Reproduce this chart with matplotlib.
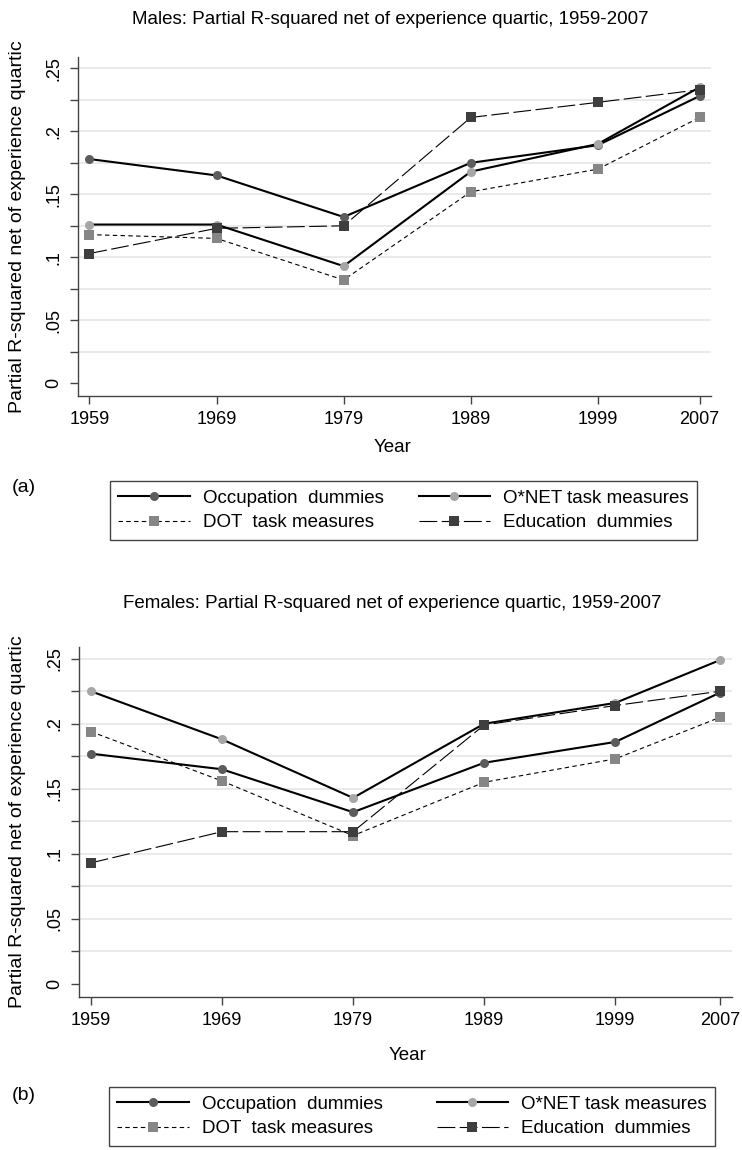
import matplotlib
matplotlib.use("Agg")
import matplotlib.pyplot as plt
from matplotlib.ticker import MultipleLocator

plt.rcParams["font.family"] = ["Liberation Sans", "DejaVu Sans"]

# values
years = [1959, 1969, 1979, 1989, 1999, 2007]
y_ticks = [0, 0.05, 0.10, 0.15, 0.20, 0.25]
y_tick_labels = ["0", ".05", ".1", ".15", ".2", ".25"]

series_names = ["Occupation  dummies", "O*NET task measures",
                "DOT  task measures", "Education  dummies"]

males_occupation = [0.178, 0.165, 0.132, 0.175, 0.189, 0.228]
males_onet = [0.126, 0.126, 0.093, 0.168, 0.190, 0.235]
males_dot = [0.118, 0.115, 0.082, 0.152, 0.170, 0.211]
males_education = [0.103, 0.123, 0.125, 0.211, 0.223, 0.233]

females_occupation = [0.177, 0.165, 0.132, 0.170, 0.186, 0.224]
females_onet = [0.225, 0.188, 0.143, 0.200, 0.216, 0.249]
females_dot = [0.194, 0.156, 0.114, 0.155, 0.173, 0.205]
females_education = [0.093, 0.117, 0.117, 0.199, 0.214, 0.225]

titles = ["Males: Partial R-squared net of experience quartic, 1959-2007",
          "Females: Partial R-squared net of experience quartic, 1959-2007"]
y_title = "Partial R-squared net of experience quartic"
x_title = "Year"
panel_tags = ["(a)", "(b)"]

# line style per series: (marker, marker colour, linestyle, linewidth)
STYLES = [
    ("o", "#5c5c5c", "-", 1.5),
    ("o", "#a6a6a6", "-", 1.5),
    ("s", "#868686", (0, (4, 3)), 0.8),
    ("s", "#3e3e3e", (0, (16, 4)), 0.8),
]

W, H = 742, 1150


def draw_panel(fig, rect, series, title, title_xy, xlabel_xy, ylabel_x, tag_xy, legend_box):
    ax = fig.add_axes([rect[0] / W, 1 - rect[3] / H, (rect[2] - rect[0]) / W, (rect[3] - rect[1]) / H])
    handles = []
    for values, name, (mk, mc, ls, lw) in zip(series, series_names, STYLES):
        (h,) = ax.plot(years, values, color="black", linestyle=ls, linewidth=lw,
                       marker=mk, markersize=6.5, markerfacecolor=mc,
                       markeredgewidth=0, label=name, zorder=3)
        handles.append(h)

    ax.set_xlim(1958.1, 2007.9)
    ax.set_ylim(-0.0101, 0.259)
    ax.set_xticks(years, [str(y) for y in years], fontsize=13)
    ax.set_yticks(y_ticks, y_tick_labels, fontsize=13, rotation=90, va="center")
    ax.yaxis.set_minor_locator(MultipleLocator(0.025))
    ax.tick_params(which="both", direction="out", length=6, width=1, color="#444444", pad=5)
    ax.grid(axis="y", which="both", color="#e6e6e6", linewidth=1.2, zorder=0)
    ax.set_axisbelow(True)
    # no gridline along zero
    ax.get_ygridlines()[0].set_visible(False)
    for side in ("top", "right"):
        ax.spines[side].set_visible(False)
    for side in ("left", "bottom"):
        ax.spines[side].set_color("#444444")
        ax.spines[side].set_linewidth(1.0)

    fig.text(title_xy[0] / W, 1 - title_xy[1] / H, title, ha="center", va="center", fontsize=13.5)
    fig.text(xlabel_xy[0] / W, 1 - xlabel_xy[1] / H, x_title, ha="center", va="center", fontsize=13.5)
    fig.text(ylabel_x / W, 1 - (rect[1] + rect[3]) / 2 / H, y_title, ha="center", va="center",
             rotation=90, fontsize=14)
    fig.text(tag_xy[0] / W, 1 - tag_xy[1] / H, tag_xy[2], ha="left", va="center", fontsize=14)

    # legend rows: occupation / O*NET on top, DOT / education below
    order = [0, 2, 1, 3]
    x0, y0, x1, y1 = legend_box
    leg = fig.legend([handles[i] for i in order], [series_names[i] for i in order],
                     loc="upper left", bbox_to_anchor=(x0 / W, 1 - y1 / H, (x1 - x0) / W, (y1 - y0) / H),
                     mode="expand", ncol=2, fontsize=13.5, numpoints=1, handlelength=3.8,
                     handletextpad=0.7, columnspacing=2.3, borderaxespad=0, borderpad=0.45,
                     labelspacing=0.4, fancybox=False, framealpha=1)
    leg.get_frame().set_edgecolor("#444444")
    leg.get_frame().set_linewidth(1.0)
    return ax


def main():
    fig = plt.figure(figsize=(W / 100, H / 100), dpi=100)
    fig.patch.set_facecolor("white")

    draw_panel(fig, (78, 57, 711, 396),
               [males_occupation, males_onet, males_dot, males_education],
               titles[0], (390, 19), (393, 448), 17.5, (12, 488, panel_tags[0]),
               (110, 481, 697, 541))
    draw_panel(fig, (79, 647, 732, 997),
               [females_occupation, females_onet, females_dot, females_education],
               titles[1], (392, 603), (408, 1056), 17.5, (12, 1095, panel_tags[1]),
               (109, 1087, 715, 1148))

    fig.savefig("out.png", dpi=100)


if __name__ == "__main__":
    main()
